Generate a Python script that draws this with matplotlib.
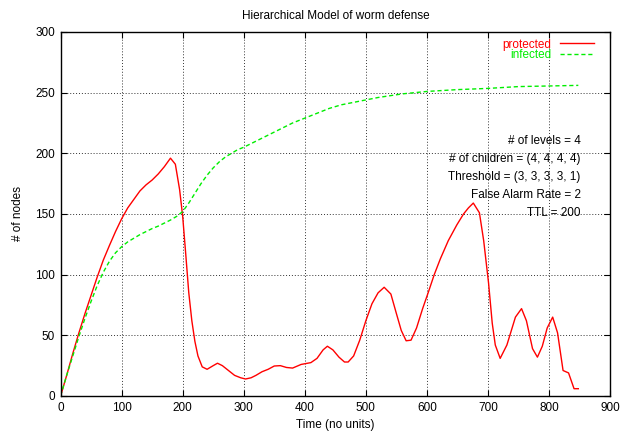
import matplotlib
matplotlib.use("Agg")
import matplotlib.pyplot as plt

plt.rcParams["font.family"] = ["Liberation Sans", "DejaVu Sans"]
plt.rcParams["font.size"] = 8.5

# ── data ──────────────────────────────────────────────────────────────────────
prot_t = [0, 10, 20, 30, 40, 50, 60, 70, 80, 90, 100, 110, 120, 130, 140, 150,
          160, 170, 180, 188, 195, 200, 205, 210, 215, 220, 225, 232, 240, 250,
          257, 265, 275, 285, 295, 303, 312, 320, 330, 340, 350, 360, 370, 380,
          394, 410, 420, 430, 437, 446, 456, 465, 471, 480, 490, 500, 510, 520,
          530, 541, 550, 558, 566, 574, 583, 593, 602, 612, 622, 635, 649, 660,
          668, 676, 686, 693, 701, 707, 712, 720, 731, 745, 755, 763, 773, 781,
          789, 797, 806, 814, 823, 832, 841, 848]
prot_n = [0, 17, 35, 52, 68, 83, 98, 112, 124, 135.5, 146, 155, 162, 169, 174, 178,
          183, 189, 196, 191, 170, 148, 117, 85, 62, 45, 33, 24, 22, 25,
          27, 25, 21, 17, 15, 14, 15, 17, 20, 22, 24.7, 25, 23.5, 23,
          26, 27.5, 31, 38, 41, 38, 32, 28, 28, 33, 46, 62, 76, 85,
          89.6, 84, 68, 54, 45.5, 46, 56, 72, 85, 100, 113, 128, 141, 150,
          155, 159, 151, 128, 93, 60, 42, 31, 42, 65, 72, 62, 39, 32,
          41, 56, 65, 52, 21, 19, 6, 6]

inf_t = [0, 10, 20, 30, 40, 50, 60, 70, 80, 90, 100, 110, 120, 130, 140, 150,
         160, 170, 180, 190, 200, 210, 220, 230, 240, 250, 260, 270, 280, 290,
         300, 320, 340, 360, 380, 400, 420, 440, 460, 480, 500, 520, 540, 560,
         580, 600, 650, 700, 750, 800, 848]
inf_n = [0, 17, 33, 49, 64, 78, 91, 102, 111, 118, 123, 127, 130, 133, 135.5, 138,
         140, 142.5, 145, 148, 152, 159, 167, 175, 182, 188, 193, 197, 200, 203,
         205, 210, 215, 220, 225, 229, 233, 237, 240, 242, 244, 246, 247.5, 249,
         250, 251, 252.5, 253.5, 255, 255.5, 256]

params = ["# of levels = 4",
          "# of children = (4, 4, 4, 4)",
          "Threshold = (3, 3, 3, 3, 1)",
          "False Alarm Rate = 2",
          "TTL = 200"]

# ── figure ────────────────────────────────────────────────────────────────────
fig = plt.figure(figsize=(6.27, 4.34), dpi=100)
ax = fig.add_axes([0.0966, 0.0876, 0.8764, 0.8387])

ax.plot(prot_t, prot_n, color="#ff0000", lw=1.0, label="protected")
ax.plot(inf_t, inf_n, color="#00ee00", lw=1.0, ls=(0, (3, 2)), label="infected")

ax.set_xlim(0, 900)
ax.set_ylim(0, 300)
ax.set_xticks(range(0, 901, 100))
ax.set_yticks(range(0, 301, 50))
ax.grid(True, color="#333333", ls=(0, (1, 2)), lw=0.7)
ax.tick_params(direction="in", length=4, width=0.8, top=True, right=True,
               labelsize=8.5, pad=4)
for s in ax.spines.values():
    s.set_linewidth(1.0)

ax.set_title("Hierarchical Model of worm defense", fontsize=8.5, pad=9)
ax.set_xlabel("Time (no units)", labelpad=4)
ax.set_ylabel("# of nodes", labelpad=8)

# legend: text first, sample line after, label coloured like its line
leg = ax.legend(loc="upper right", bbox_to_anchor=(0.979, 0.995),
                markerfirst=False, frameon=False,
                handlelength=2.9, handletextpad=0.7, labelspacing=-0.1,
                borderaxespad=0, fontsize=8.5)
for txt, line in zip(leg.get_texts(), leg.get_lines()):
    txt.set_color(line.get_color())

for i, p in enumerate(params):
    ax.text(852, 210.4 - i * 15.0, p, ha="right", va="center", fontsize=8.5)

fig.savefig("out.png", dpi=100)
